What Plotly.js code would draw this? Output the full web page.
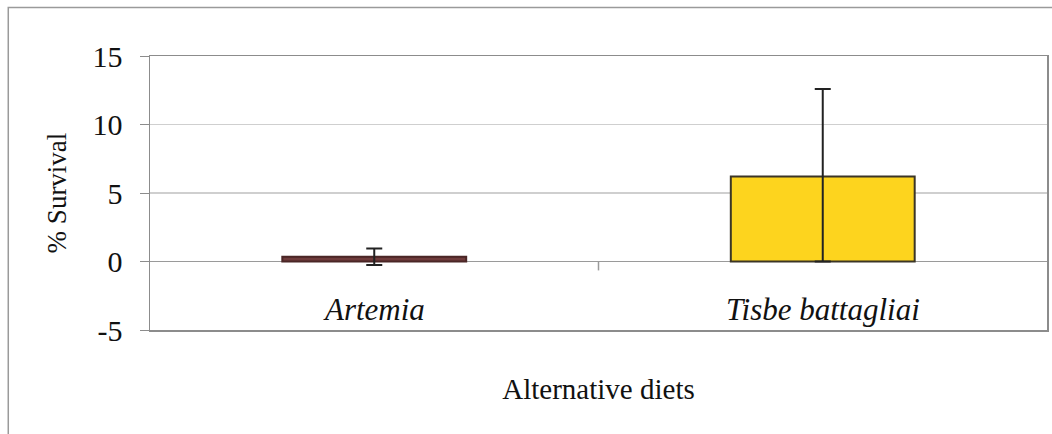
<!DOCTYPE html>
<html><head><meta charset="utf-8">
<script src="https://cdn.plot.ly/plotly-3.0.1.min.js"></script>
<style>html,body{margin:0;padding:0;background:#fff}#c{width:1052px;height:434px}</style>
</head><body><div id="c"></div>
<script>
const categories = ["Artemia", "Tisbe battagliai"];
const survival = [0.35, 6.2];
const errPlus = [0.6, 6.4];
const errMinus = [0.6, 6.2];
const barColors = ["#6e3b3b", "#fdd41e"];
const barLines = ["#4a2626", "#3b3526"];
const yTicks = [-5, 0, 5, 10, 15];
const yTickLabels = ["-5", "0", "5", "10", "15"];

const SERIF = "Liberation Serif";

const trace = {
  type: "bar",
  x: categories,
  y: survival,
  marker: {color: barColors, line: {color: barLines, width: 2}},
  error_y: {type: "data", array: errPlus, arrayminus: errMinus, visible: true,
            color: "#222", thickness: 2, width: 8},
  hoverinfo: "none"
};

const layout = {
  width: 1052, height: 434,
  margin: {l: 150, r: 5, t: 56, b: 104},
  paper_bgcolor: "#fff", plot_bgcolor: "#fff",
  showlegend: false,
  bargap: 0.59,
  font: {family: SERIF, color: "#111", size: 22},
  xaxis: {
    showticklabels: false,
    ticks: "", showgrid: false, zeroline: false,
    showline: true, mirror: true, linecolor: "#8c8c8c", linewidth: 1.5,
    title: {text: "Alternative diets", font: {size: 29, family: SERIF, color: "#111"}, standoff: 48}
  },
  yaxis: {
    range: [-5, 15], tickmode: "array", tickvals: yTicks, ticktext: yTickLabels,
    ticks: "outside", ticklen: 9, tickcolor: "#8c8c8c", ticklabelstandoff: 11,
    showgrid: true, gridcolor: "#cfcfcf", gridwidth: 1.5,
    zeroline: true, zerolinecolor: "#9a9a9a", zerolinewidth: 1.5,
    showline: true, mirror: true, linecolor: "#8c8c8c", linewidth: 1.5,
    tickfont: {size: 30, family: SERIF, color: "#111"},
    title: {text: "% Survival", font: {size: 27, family: SERIF, color: "#111"}, standoff: 18}
  },
  annotations: categories.map(c => ({
    x: c, y: -3.53, xref: "x", yref: "y", text: "<i>" + c + "</i>",
    showarrow: false, xanchor: "center", yanchor: "middle",
    font: {size: 31, family: SERIF, color: "#111"}
  })),
  shapes: [
    {type: "rect", xref: "paper", yref: "paper", x0: -0.158, x1: 1.05, y0: -0.5, y1: 1.177,
     line: {color: "#9a9a9a", width: 1.5}, fillcolor: "rgba(0,0,0,0)", layer: "below"},
    {type: "line", xref: "x", yref: "y", x0: 0.5, x1: 0.5, y0: 0, y1: -0.65,
     line: {color: "#9a9a9a", width: 1.5}}
  ]
};

Plotly.newPlot("c", [trace], layout, {staticPlot: true, displayModeBar: false});
</script></body></html>
